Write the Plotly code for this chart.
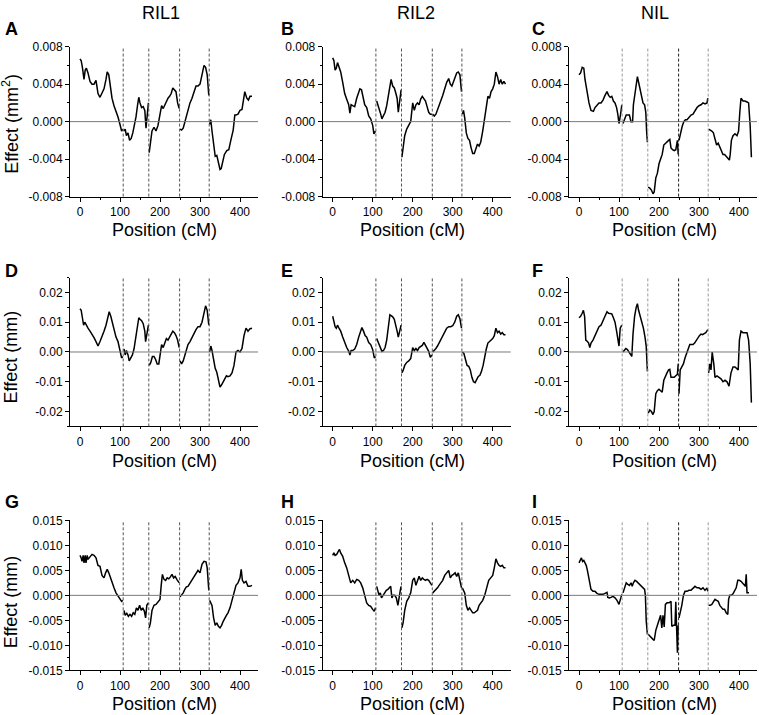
import plotly.graph_objects as go

# ---------------- data ----------------
col_titles = ["RIL1", "RIL2", "NIL"]
panel_letters = ["A", "B", "C", "D", "E", "F", "G", "H", "I"]
y_titles = ["Effect (mm<sup>2</sup>)", "Effect (mm)", "Effect (mm)"]
x_title = "Position (cM)"
chr_bounds = [108, 172, 249, 323]

x_ticks = [0, 100, 200, 300, 400]
y_ticks_rows = [
    [-0.008, -0.004, 0.0, 0.004, 0.008],
    [-0.02, -0.01, 0.0, 0.01, 0.02],
    [-0.015, -0.010, -0.005, 0.0, 0.005, 0.010, 0.015],
]
y_ticktext_rows = [
    ["-0.008", "-0.004", "0.000", "0.004", "0.008"],
    ["-0.02", "-0.01", "0.00", "0.01", "0.02"],
    ["-0.015", "-0.010", "-0.005", "0.000", "0.005", "0.010", "0.015"],
]

# Panel A (RIL1, area)
A_pos = [
    [0, 3, 6, 8, 10, 13, 16, 20, 25, 30, 35, 40, 45, 50, 55, 60, 65, 68, 72, 76, 80, 85, 90, 95, 100, 104, 107],
    [110, 113, 116, 120, 124, 128, 132, 136, 140, 144, 147, 150, 154, 158, 162, 165, 168, 171],
    [173, 176, 180, 185, 190, 195, 200, 204, 208, 212, 216, 220, 224, 228, 232, 236, 240, 244, 248],
    [250, 254, 258, 262, 266, 270, 275, 280, 285, 290, 295, 300, 305, 310, 314, 318, 322],
    [324, 327, 330, 334, 338, 342, 346, 350, 353, 357, 361, 367, 372, 377, 383, 387, 390, 395, 400, 405, 409, 412, 417, 421, 425, 430],
]
A_eff = [
    [0.0067, 0.0065, 0.0058, 0.0053, 0.0045, 0.0055, 0.0057, 0.0052, 0.0043, 0.0040, 0.0040, 0.0044, 0.0030, 0.0026, 0.0030, 0.0035, 0.0045, 0.0053, 0.0050, 0.0035, 0.0025, 0.0017, 0.0012, 0.0005, -0.0003, -0.0010, -0.0008],
    [-0.0010, -0.0008, -0.0015, -0.0012, -0.0020, -0.0018, -0.0012, -0.0005, 0.0005, 0.0018, 0.0026, 0.0020, 0.0015, 0.0016, 0.0012, -0.0007, 0.0005, 0.0020],
    [-0.0033, -0.0022, -0.0010, -0.0006, -0.0010, -0.0004, 0.0008, 0.0017, 0.0014, 0.0018, 0.0022, 0.0025, 0.0027, 0.0030, 0.0036, 0.0034, 0.0032, 0.0020, 0.0014],
    [-0.0008, -0.0009, -0.0007, 0.0000, 0.0007, 0.0013, 0.0020, 0.0025, 0.0032, 0.0038, 0.0038, 0.0040, 0.0050, 0.0060, 0.0058, 0.0050, 0.0028],
    [-0.0003, 0.0002, -0.0010, -0.0025, -0.0037, -0.0036, -0.0045, -0.0051, -0.0050, -0.0043, -0.0035, -0.0031, -0.0030, -0.0020, -0.0009, 0.0007, 0.0007, 0.0008, 0.0012, 0.0013, 0.0025, 0.0032, 0.0025, 0.0023, 0.0027, 0.0027],
]

# Panel B (RIL2, area)
B_pos = [
    [0, 3, 6, 9, 12, 15, 20, 25, 30, 35, 40, 43, 46, 50, 55, 60, 65, 68, 72, 76, 80, 85, 90, 95, 100, 103, 107],
    [110, 113, 116, 120, 123, 127, 131, 135, 139, 143, 146, 150, 154, 158, 161, 164, 168, 171],
    [173, 176, 180, 185, 190, 195, 200, 204, 208, 212, 216, 220, 224, 228, 232, 236, 240, 244, 248],
    [250, 254, 258, 262, 266, 270, 275, 280, 285, 290, 294, 298, 302, 306, 310, 314, 318, 322],
    [324, 327, 330, 334, 338, 342, 346, 350, 354, 358, 362, 366, 370, 375, 380, 384, 388, 392, 396, 400, 404, 408, 412, 416, 420, 424, 428, 432],
]
B_eff = [
    [0.0068, 0.0065, 0.0055, 0.0057, 0.0063, 0.0060, 0.0053, 0.0042, 0.0030, 0.0024, 0.0018, 0.0009, 0.0018, 0.0017, 0.0016, 0.0025, 0.0033, 0.0035, 0.0034, 0.0027, 0.0018, 0.0015, 0.0006, 0.0003, -0.0004, -0.0013, -0.0010],
    [0.0022, 0.0018, 0.0015, 0.0008, 0.0003, 0.0007, 0.0010, 0.0017, 0.0028, 0.0040, 0.0045, 0.0038, 0.0036, 0.0030, 0.0025, 0.0010, 0.0025, 0.0034],
    [-0.0038, -0.0028, -0.0015, -0.0008, -0.0004, 0.0000, 0.0020, 0.0012, 0.0018, 0.0020, 0.0018, 0.0024, 0.0027, 0.0025, 0.0022, 0.0016, 0.0010, 0.0008, 0.0008],
    [0.0008, 0.0006, 0.0008, 0.0012, 0.0016, 0.0022, 0.0028, 0.0035, 0.0042, 0.0046, 0.0040, 0.0038, 0.0042, 0.0048, 0.0052, 0.0053, 0.0050, 0.0032],
    [0.0008, 0.0012, 0.0004, -0.0012, -0.0018, -0.0020, -0.0028, -0.0034, -0.0034, -0.0030, -0.0024, -0.0026, -0.0022, -0.0010, 0.0005, 0.0018, 0.0027, 0.0025, 0.0032, 0.0035, 0.0040, 0.0053, 0.0048, 0.0040, 0.0045, 0.0040, 0.0043, 0.0040],
]

# Panel C (NIL, area)
C_pos = [
    [0, 4, 8, 12, 15, 18, 21, 25, 30, 36, 40, 45, 50, 55, 60, 65, 70, 74, 78, 82, 86, 90, 94, 97, 100, 104, 107],
    [110, 114, 118, 122, 126, 130, 134, 136, 140, 143, 146, 149, 152, 156, 160, 164, 167, 169, 171],
    [173, 177, 181, 185, 188, 192, 196, 200, 204, 208, 212, 216, 220, 224, 227, 230, 234, 238, 242, 246, 248],
    [250, 254, 258, 262, 266, 270, 275, 280, 285, 290, 295, 300, 305, 310, 315, 320, 322],
    [324, 328, 332, 336, 340, 344, 348, 352, 356, 360, 364, 368, 372, 376, 378, 381, 385, 390, 395, 399, 402, 405, 410, 415, 420, 424, 428, 431],
]
C_eff = [
    [0.0050, 0.0052, 0.0058, 0.0057, 0.0045, 0.0037, 0.0028, 0.0020, 0.0012, 0.0011, 0.0015, 0.0018, 0.0020, 0.0020, 0.0023, 0.0028, 0.0032, 0.0028, 0.0026, 0.0027, 0.0022, 0.0020, 0.0015, 0.0008, -0.0002, 0.0008, 0.0018],
    [-0.0002, 0.0002, 0.0007, 0.0007, 0.0007, 0.0000, 0.0000, 0.0018, 0.0030, 0.0042, 0.0048, 0.0042, 0.0035, 0.0028, 0.0020, 0.0018, 0.0010, -0.0010, -0.0022],
    [-0.0070, -0.0071, -0.0073, -0.0077, -0.0075, -0.0060, -0.0055, -0.0045, -0.0040, -0.0035, -0.0025, -0.0023, -0.0021, -0.0020, -0.0019, -0.0028, -0.0030, -0.0031, -0.0030, -0.0020, -0.0035],
    [-0.0020, -0.0012, -0.0005, 0.0000, 0.0002, 0.0002, 0.0005, 0.0007, 0.0008, 0.0012, 0.0015, 0.0017, 0.0018, 0.0020, 0.0019, 0.0020, 0.0025],
    [-0.0008, -0.0009, -0.0010, -0.0012, -0.0018, -0.0025, -0.0023, -0.0027, -0.0030, -0.0035, -0.0035, -0.0037, -0.0038, -0.0041, -0.0035, -0.0020, -0.0015, -0.0013, -0.0015, -0.0010, 0.0010, 0.0025, 0.0022, 0.0022, 0.0021, 0.0020, -0.0005, -0.0038],
]

# Panel D (RIL1, length)
D_pos = [
    [0, 3, 6, 9, 12, 15, 20, 25, 30, 35, 40, 45, 50, 55, 60, 65, 70, 73, 77, 81, 85, 90, 95, 100, 104, 107],
    [110, 113, 116, 120, 123, 127, 131, 135, 139, 143, 147, 150, 154, 158, 162, 164, 168, 171],
    [173, 177, 181, 185, 189, 193, 197, 201, 204, 208, 212, 216, 220, 224, 228, 232, 236, 240, 244, 248],
    [250, 254, 258, 262, 266, 270, 275, 280, 285, 290, 295, 300, 305, 310, 314, 318, 322],
    [324, 327, 330, 334, 338, 342, 346, 350, 354, 358, 362, 366, 370, 375, 380, 385, 390, 395, 400, 405, 410, 415, 420, 425, 430],
]
D_eff = [
    [0.0145, 0.0140, 0.0115, 0.0090, 0.0100, 0.0090, 0.0080, 0.0070, 0.0060, 0.0048, 0.0035, 0.0020, 0.0035, 0.0050, 0.0070, 0.0090, 0.0125, 0.0135, 0.0120, 0.0095, 0.0070, 0.0050, 0.0035, 0.0005, -0.0020, -0.0015],
    [0.0010, -0.0010, 0.0005, -0.0010, -0.0030, -0.0020, -0.0010, 0.0010, 0.0045, 0.0080, 0.0115, 0.0110, 0.0105, 0.0095, 0.0070, 0.0035, 0.0070, 0.0090],
    [-0.0045, -0.0035, -0.0015, -0.0015, -0.0025, -0.0040, -0.0040, -0.0005, 0.0025, 0.0015, 0.0030, 0.0045, 0.0040, 0.0048, 0.0060, 0.0070, 0.0065, 0.0055, 0.0040, 0.0015],
    [-0.0030, -0.0040, -0.0030, -0.0010, 0.0010, 0.0025, 0.0035, 0.0050, 0.0065, 0.0075, 0.0085, 0.0085, 0.0100, 0.0130, 0.0155, 0.0140, 0.0090],
    [0.0000, 0.0020, 0.0005, -0.0025, -0.0055, -0.0068, -0.0095, -0.0118, -0.0110, -0.0100, -0.0088, -0.0080, -0.0083, -0.0080, -0.0070, -0.0045, 0.0000, 0.0005, 0.0000, 0.0012, 0.0055, 0.0080, 0.0070, 0.0078, 0.0080],
]

# Panel E (RIL2, length)
E_pos = [
    [0, 3, 6, 9, 12, 15, 20, 25, 30, 35, 40, 43, 46, 50, 55, 60, 65, 70, 73, 77, 81, 85, 90, 95, 100, 104, 107],
    [110, 113, 116, 120, 123, 127, 131, 135, 139, 143, 146, 150, 154, 158, 161, 164, 168, 171],
    [173, 176, 180, 185, 190, 195, 200, 204, 208, 212, 216, 220, 224, 228, 232, 236, 240, 244, 248],
    [250, 254, 258, 262, 266, 270, 275, 280, 285, 290, 295, 300, 305, 310, 314, 318, 322],
    [324, 328, 332, 336, 340, 344, 348, 352, 356, 360, 364, 368, 372, 376, 380, 384, 388, 392, 396, 400, 404, 408, 412, 416, 420, 424, 428, 432],
]
E_eff = [
    [0.0120, 0.0105, 0.0085, 0.0080, 0.0090, 0.0082, 0.0070, 0.0050, 0.0030, 0.0015, 0.0003, -0.0010, 0.0005, 0.0005, 0.0010, 0.0025, 0.0050, 0.0075, 0.0082, 0.0070, 0.0055, 0.0050, 0.0032, 0.0025, 0.0008, -0.0020, -0.0015],
    [0.0045, 0.0035, 0.0030, 0.0010, 0.0002, 0.0005, 0.0015, 0.0040, 0.0080, 0.0125, 0.0122, 0.0118, 0.0110, 0.0090, 0.0070, 0.0050, 0.0075, 0.0090],
    [-0.0070, -0.0062, -0.0045, -0.0035, -0.0030, -0.0022, 0.0015, 0.0005, 0.0012, 0.0005, 0.0015, 0.0018, 0.0022, 0.0032, 0.0020, 0.0010, 0.0002, -0.0018, -0.0010],
    [0.0000, 0.0005, 0.0012, 0.0020, 0.0030, 0.0042, 0.0055, 0.0070, 0.0080, 0.0085, 0.0085, 0.0088, 0.0100, 0.0120, 0.0125, 0.0112, 0.0080],
    [0.0000, -0.0005, -0.0025, -0.0045, -0.0048, -0.0060, -0.0085, -0.0100, -0.0103, -0.0092, -0.0082, -0.0078, -0.0065, -0.0045, -0.0015, 0.0010, 0.0030, 0.0035, 0.0038, 0.0045, 0.0055, 0.0080, 0.0065, 0.0070, 0.0060, 0.0065, 0.0058, 0.0058],
]

# Panel F (NIL, length)
F_pos = [
    [0, 4, 8, 11, 14, 17, 21, 24, 27, 30, 35, 40, 45, 50, 55, 60, 65, 70, 74, 78, 82, 86, 90, 94, 97, 100, 103, 107],
    [110, 113, 117, 121, 125, 129, 132, 135, 139, 143, 146, 149, 153, 157, 161, 165, 168, 171],
    [173, 177, 181, 185, 188, 192, 196, 200, 204, 208, 212, 216, 220, 224, 227, 230, 234, 238, 242, 246, 248],
    [250, 253, 257, 261, 265, 269, 273, 277, 281, 285, 289, 293, 297, 301, 305, 309, 313, 317, 322],
    [324, 327, 330, 333, 337, 340, 345, 350, 355, 360, 365, 370, 375, 380, 385, 390, 395, 398, 401, 405, 410, 415, 420, 424, 428, 431],
]
F_eff = [
    [0.0115, 0.0120, 0.0130, 0.0140, 0.0120, 0.0040, 0.0035, 0.0030, 0.0015, 0.0030, 0.0040, 0.0055, 0.0070, 0.0085, 0.0090, 0.0105, 0.0120, 0.0135, 0.0130, 0.0130, 0.0128, 0.0115, 0.0100, 0.0070, 0.0050, 0.0020, 0.0080, 0.0090],
    [0.0000, 0.0005, 0.0012, 0.0008, 0.0000, -0.0005, -0.0015, 0.0060, 0.0120, 0.0150, 0.0162, 0.0140, 0.0120, 0.0100, 0.0080, 0.0050, 0.0020, -0.0065],
    [-0.0205, -0.0195, -0.0200, -0.0210, -0.0200, -0.0140, -0.0130, -0.0125, -0.0130, -0.0135, -0.0095, -0.0080, -0.0070, -0.0060, -0.0058, -0.0085, -0.0085, -0.0085, -0.0080, -0.0075, -0.0040],
    [-0.0140, -0.0060, -0.0050, -0.0040, -0.0020, -0.0005, 0.0010, 0.0025, 0.0025, 0.0025, 0.0030, 0.0040, 0.0050, 0.0055, 0.0060, 0.0058, 0.0062, 0.0065, 0.0075],
    [-0.0070, -0.0040, -0.0060, 0.0000, -0.0040, -0.0085, -0.0080, -0.0085, -0.0090, -0.0100, -0.0095, -0.0100, -0.0115, -0.0070, -0.0050, -0.0050, -0.0055, -0.0060, 0.0040, 0.0070, 0.0065, 0.0065, 0.0065, 0.0040, -0.0040, -0.0170],
]

# Panel G (RIL1, width)
G_pos = [
    [0, 3, 5, 8, 10, 13, 15, 18, 20, 25, 30, 35, 40, 45, 50, 55, 60, 64, 68, 72, 76, 80, 85, 90, 95, 100, 104, 107],
    [110, 113, 117, 121, 125, 129, 133, 137, 141, 145, 149, 153, 157, 161, 164, 167, 171],
    [173, 176, 180, 185, 190, 195, 200, 203, 206, 210, 214, 218, 222, 226, 230, 234, 238, 242, 246, 248],
    [250, 254, 258, 262, 266, 270, 275, 280, 285, 290, 295, 300, 305, 310, 315, 318, 322],
    [324, 327, 330, 334, 338, 342, 346, 350, 354, 358, 362, 366, 370, 375, 380, 385, 390, 395, 400, 403, 406, 410, 415, 420, 425, 430],
]
G_eff = [
    [0.0080, 0.0075, 0.0068, 0.0080, 0.0065, 0.0080, 0.0065, 0.0080, 0.0072, 0.0078, 0.0082, 0.0080, 0.0075, 0.0060, 0.0058, 0.0040, 0.0035, 0.0045, 0.0052, 0.0045, 0.0035, 0.0025, 0.0015, 0.0005, -0.0002, -0.0008, -0.0012, -0.0010],
    [-0.0030, -0.0040, -0.0036, -0.0042, -0.0038, -0.0042, -0.0035, -0.0038, -0.0025, -0.0030, -0.0020, -0.0030, -0.0025, -0.0032, -0.0045, -0.0020, -0.0015],
    [-0.0065, -0.0055, -0.0030, -0.0020, -0.0018, -0.0012, -0.0008, 0.0020, 0.0042, 0.0032, 0.0030, 0.0035, 0.0033, 0.0037, 0.0042, 0.0035, 0.0038, 0.0032, 0.0025, 0.0025],
    [-0.0003, 0.0000, 0.0005, 0.0012, 0.0017, 0.0018, 0.0025, 0.0030, 0.0038, 0.0045, 0.0050, 0.0045, 0.0062, 0.0068, 0.0067, 0.0055, 0.0010],
    [-0.0010, -0.0015, -0.0020, -0.0045, -0.0060, -0.0055, -0.0062, -0.0065, -0.0060, -0.0052, -0.0045, -0.0040, -0.0035, -0.0025, -0.0010, 0.0005, 0.0020, 0.0025, 0.0035, 0.0052, 0.0030, 0.0025, 0.0028, 0.0018, 0.0018, 0.0020],
]

# Panel H (RIL2, width)
H_pos = [
    [0, 3, 6, 10, 14, 17, 20, 25, 30, 35, 40, 45, 50, 55, 60, 65, 70, 75, 80, 85, 90, 95, 100, 104, 107],
    [110, 113, 116, 119, 122, 126, 130, 134, 138, 142, 145, 148, 151, 155, 159, 163, 166, 169, 171],
    [173, 176, 180, 185, 190, 195, 200, 204, 208, 212, 216, 220, 224, 228, 232, 236, 240, 244, 248],
    [250, 254, 258, 262, 266, 270, 275, 280, 285, 290, 294, 298, 302, 306, 310, 314, 318, 322],
    [324, 327, 330, 334, 338, 342, 346, 350, 354, 358, 362, 366, 370, 375, 380, 385, 390, 395, 400, 404, 408, 412, 416, 420, 424, 428, 432],
]
H_eff = [
    [0.0080, 0.0085, 0.0080, 0.0082, 0.0088, 0.0092, 0.0085, 0.0078, 0.0065, 0.0055, 0.0040, 0.0025, 0.0030, 0.0025, 0.0032, 0.0030, 0.0025, 0.0015, 0.0000, -0.0015, -0.0020, -0.0022, -0.0028, -0.0032, -0.0025],
    [0.0018, 0.0010, 0.0000, 0.0005, -0.0005, 0.0000, 0.0005, 0.0010, 0.0012, 0.0015, 0.0018, -0.0005, 0.0000, 0.0000, -0.0005, -0.0020, 0.0000, 0.0010, 0.0018],
    [-0.0065, -0.0055, -0.0030, -0.0012, -0.0005, 0.0005, 0.0030, 0.0035, 0.0020, 0.0030, 0.0038, 0.0030, 0.0035, 0.0032, 0.0030, 0.0032, 0.0030, 0.0025, 0.0020],
    [0.0005, 0.0008, 0.0012, 0.0015, 0.0020, 0.0025, 0.0030, 0.0040, 0.0045, 0.0050, 0.0035, 0.0040, 0.0042, 0.0045, 0.0038, 0.0045, 0.0030, 0.0015],
    [0.0015, 0.0010, 0.0005, -0.0020, -0.0030, -0.0025, -0.0030, -0.0035, -0.0035, -0.0033, -0.0030, -0.0020, -0.0015, -0.0010, 0.0000, 0.0015, 0.0030, 0.0035, 0.0040, 0.0055, 0.0073, 0.0065, 0.0060, 0.0058, 0.0060, 0.0055, 0.0055],
]

# Panel I (NIL, width)
I_pos = [
    [0, 3, 6, 9, 12, 15, 18, 21, 24, 27, 30, 35, 40, 45, 50, 55, 60, 65, 70, 72, 76, 80, 85, 90, 95, 100, 104, 107],
    [110, 114, 118, 122, 126, 130, 133, 136, 140, 144, 148, 152, 156, 160, 164, 166, 168, 171],
    [173, 177, 181, 185, 188, 192, 196, 200, 204, 207, 210, 213, 216, 220, 225, 230, 232, 236, 240, 242, 244, 246, 248],
    [250, 253, 257, 261, 265, 270, 275, 280, 285, 290, 295, 300, 305, 310, 315, 320, 322],
    [324, 328, 332, 336, 340, 344, 348, 352, 356, 360, 364, 368, 372, 374, 377, 381, 385, 389, 393, 397, 401, 405, 409, 413, 416, 418, 420, 422, 425],
]
I_eff = [
    [0.0065, 0.0070, 0.0075, 0.0068, 0.0070, 0.0065, 0.0060, 0.0050, 0.0035, 0.0020, 0.0012, 0.0008, 0.0008, 0.0004, 0.0002, 0.0002, 0.0002, 0.0004, 0.0006, -0.0004, -0.0005, -0.0004, -0.0002, -0.0005, -0.0010, -0.0018, -0.0005, 0.0002],
    [0.0005, 0.0015, 0.0025, 0.0022, 0.0020, 0.0025, 0.0018, 0.0025, 0.0030, 0.0028, 0.0025, 0.0022, 0.0020, 0.0015, 0.0012, 0.0000, -0.0050, -0.0078],
    [-0.0078, -0.0082, -0.0085, -0.0088, -0.0090, -0.0070, -0.0060, -0.0050, -0.0040, -0.0065, -0.0040, -0.0063, -0.0018, -0.0015, -0.0015, -0.0012, -0.0062, -0.0060, -0.0060, -0.0013, -0.0060, -0.0115, -0.0060],
    [-0.0045, -0.0035, -0.0020, 0.0000, 0.0008, 0.0008, 0.0010, 0.0010, 0.0015, 0.0018, 0.0015, 0.0015, 0.0012, 0.0015, 0.0010, 0.0015, 0.0008],
    [-0.0020, -0.0020, -0.0018, -0.0012, -0.0008, -0.0010, -0.0012, -0.0020, -0.0025, -0.0028, -0.0028, -0.0035, -0.0038, -0.0008, 0.0000, 0.0000, 0.0003, 0.0008, 0.0015, 0.0030, 0.0030, 0.0028, 0.0025, 0.0022, 0.0018, 0.0042, 0.0005, 0.0005, 0.0005],
]

panel_data = [(A_pos, A_eff), (B_pos, B_eff), (C_pos, C_eff),
              (D_pos, D_eff), (E_pos, E_eff), (F_pos, F_eff),
              (G_pos, G_eff), (H_pos, H_eff), (I_pos, I_eff)]

# ---------------- layout geometry (pixels) ----------------
W, H = 759, 715
col_px = [(70, 258), (322.7, 510.7), (569, 757)]
row_px = [(46, 196), (277, 426), (520, 670)]
y_ranges = [[-0.008, 0.008], [-0.025, 0.025], [-0.015, 0.015]]
y_minor = [
    [-0.006, -0.002, 0.002, 0.006],
    [-0.025, -0.015, -0.005, 0.005, 0.015, 0.025],
    [-0.0125, -0.0075, -0.0025, 0.0025, 0.0075, 0.0125],
]
x_range = [-25, 445]

# the captured page comes out slightly squeezed vertically; pre-compensate
V_OFF, V_SCALE = 6.3, 0.981

FONT = "Arial, 'Liberation Sans', Helvetica, sans-serif"


def px_x(v):
    return v / W


def px_y(v):
    page = (v - V_OFF) / V_SCALE
    return 1 - page / H


def join_segments(segs):
    out = []
    for i, s in enumerate(segs):
        if i:
            out.append(None)
        out.extend(s)
    return out


fig = go.Figure()
shapes = []
annotations = []

for idx in range(9):
    r, c = divmod(idx, 3)
    n = idx + 1
    xa = "x" if n == 1 else f"x{n}"
    ya = "y" if n == 1 else f"y{n}"
    pos, eff = panel_data[idx]
    fig.add_trace(go.Scatter(
        x=join_segments(pos), y=join_segments(eff), mode="lines",
        line=dict(color="black", width=1.5), connectgaps=False,
        xaxis=xa, yaxis=ya, showlegend=False, hoverinfo="skip"))

    x0, x1 = col_px[c]
    y0, y1 = row_px[r]
    fig.layout[f"xaxis{'' if n == 1 else n}"] = dict(
        domain=[px_x(x0), px_x(x1)], range=x_range, anchor=ya,
        showline=True, linecolor="black", linewidth=1, mirror=False,
        showgrid=False, zeroline=False,
        ticks="outside", ticklen=4, tickwidth=1, tickcolor="black",
        tickmode="array", tickvals=x_ticks, ticktext=[str(t) for t in x_ticks],
        tickfont=dict(family=FONT, size=12, color="black"),
        minor=dict(tickmode="array", tickvals=[50, 150, 250, 350], ticklen=2,
                   tickcolor="black", showgrid=False),
    )
    fig.layout[f"yaxis{'' if n == 1 else n}"] = dict(
        domain=[px_y(y1), px_y(y0)], range=y_ranges[r], anchor=xa,
        showline=True, linecolor="black", linewidth=1, mirror=False,
        showgrid=False, zeroline=False,
        ticks="outside", ticklen=4, tickwidth=1, tickcolor="black",
        tickmode="array", tickvals=y_ticks_rows[r], ticktext=y_ticktext_rows[r],
        tickfont=dict(family=FONT, size=12, color="black"),
        minor=dict(tickmode="array", tickvals=y_minor[r], ticklen=2,
                   tickcolor="black", showgrid=False),
    )

    # zero line
    shapes.append(dict(type="line", xref=f"{xa} domain", yref=ya,
                       x0=0, x1=1, y0=0, y1=0,
                       line=dict(color="#7a7a7a", width=1)))
    # chromosome boundaries
    for k, b in enumerate(chr_bounds):
        colr = "#555555"
        if c == 2:
            colr = "#222222" if k == 2 else "#999999"
        shapes.append(dict(type="line", xref=xa, yref=f"{ya} domain",
                           x0=b, x1=b, y0=0, y1=1,
                           line=dict(color=colr, width=1, dash="3px,2px")))

    # panel letter
    letter_x = [3, 279, 530][c]
    letter_y = [28, 270, 502][r]
    annotations.append(dict(text=f"<b>{panel_letters[idx]}</b>", xref="paper", yref="paper",
                            x=px_x(letter_x), y=px_y(letter_y), xanchor="left", yanchor="middle",
                            showarrow=False, font=dict(family=FONT, size=18, color="black")))
    # x title
    xt_x = [164, 412, 664][c]
    xt_y = [229, 461, 704][r]
    annotations.append(dict(text=x_title, xref="paper", yref="paper",
                            x=px_x(xt_x), y=px_y(xt_y), xanchor="center", yanchor="middle",
                            showarrow=False, font=dict(family=FONT, size=18, color="black")))

# column titles
for c, (t, cx) in enumerate(zip(col_titles, [161, 416, 655])):
    annotations.append(dict(text=t, xref="paper", yref="paper",
                            x=px_x(cx), y=px_y(12), xanchor="center", yanchor="middle",
                            showarrow=False, font=dict(family=FONT, size=18, color="black")))

# y titles
for r, (t, cy) in enumerate(zip(y_titles, [123, 357, 602])):
    annotations.append(dict(text=t, xref="paper", yref="paper",
                            x=px_x(11), y=px_y(cy), xanchor="center", yanchor="middle",
                            textangle=-90, showarrow=False,
                            font=dict(family=FONT, size=18, color="black")))

fig.update_layout(
    width=W, height=H, autosize=False,
    margin=dict(l=0, r=0, t=0, b=0),
    paper_bgcolor="white", plot_bgcolor="white",
    shapes=shapes, annotations=annotations,
    showlegend=False,
)

pin_script = (
    "document.documentElement.style.margin='0';"
    "document.body.style.margin='0';"
    "document.body.style.overflow='hidden';"
    "var gd=document.getElementById('{plot_id}');"
    "gd.style.position='fixed';gd.style.left='0px';gd.style.top='0px';"
)

fig.write_html("out.html",
               config={"displayModeBar": False, "responsive": False},
               post_script=pin_script)
